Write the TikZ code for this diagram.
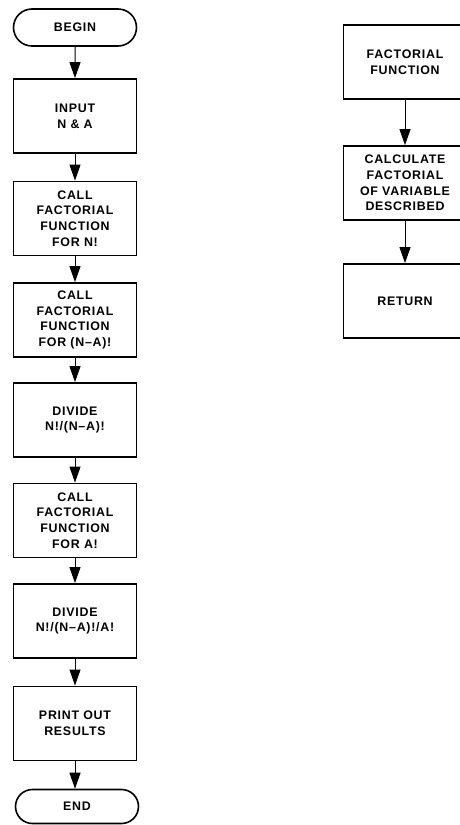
\documentclass[tikz,border=0pt]{standalone}
\usepackage{fontspec}
\setmainfont{Liberation Sans}[LetterSpace=6]
\usetikzlibrary{arrows.meta,shapes.misc}
\newcommand{\lblfont}{\fontsize{12.4}{15.7}\selectfont\bfseries}
\begin{document}
\begin{tikzpicture}[x=1pt,y=-1pt,
  box/.style={draw, line width=1.8pt, minimum width=123pt, minimum height=74pt,
              align=center, inner sep=0pt, font=\lblfont},
  term/.style={draw, rounded rectangle, line width=1.6pt, minimum width=123pt,
               minimum height=37pt, inner sep=0pt, font=\lblfont},
  flow/.style={-{Triangle[length=16pt,width=11pt]}, line width=1pt}]
\useasboundingbox (0,0) rectangle (459,825);

% main program
\node[term] (begin) at (75,27.5) {BEGIN};
\node[box] (input) at (75,116) {INPUT\\N \& A};
\node[box] (calln) at (75,218.5) {CALL\\FACTORIAL\\FUNCTION\\FOR N!};
\node[box] (callna) at (75,320) {CALL\\FACTORIAL\\FUNCTION\\FOR (N--A)!};
\node[box] (div1) at (75,420) {DIVIDE\\N!/(N--A)!};
\node[box] (calla) at (75,520.5) {CALL\\FACTORIAL\\FUNCTION\\FOR A!};
\node[box] (div2) at (75,621) {DIVIDE\\N!/(N--A)!/A!};
\node[box] (print) at (75,723.5) {PRINT OUT\\RESULTS};
\node[term, minimum height=34pt] (end) at (77,806.5) {END};

\draw[flow] (begin) -- (input);
\draw[flow] (input) -- (calln);
\draw[flow] (calln) -- (callna);
\draw[flow] (callna) -- (div1);
\draw[flow] (div1) -- (calla);
\draw[flow] (calla) -- (div2);
\draw[flow] (div2) -- (print);
\draw[flow] (print.south) -- (print.south |- end.north);

% factorial subroutine
\node[box] (fact) at (405,62) {FACTORIAL\\FUNCTION};
\node[box] (calc) at (405,183) {CALCULATE\\FACTORIAL\\OF VARIABLE\\DESCRIBED};
\node[box] (ret) at (405,301) {RETURN};

\draw[flow] (fact) -- (calc);
\draw[flow] (calc) -- (ret);
\end{tikzpicture}
\end{document}
